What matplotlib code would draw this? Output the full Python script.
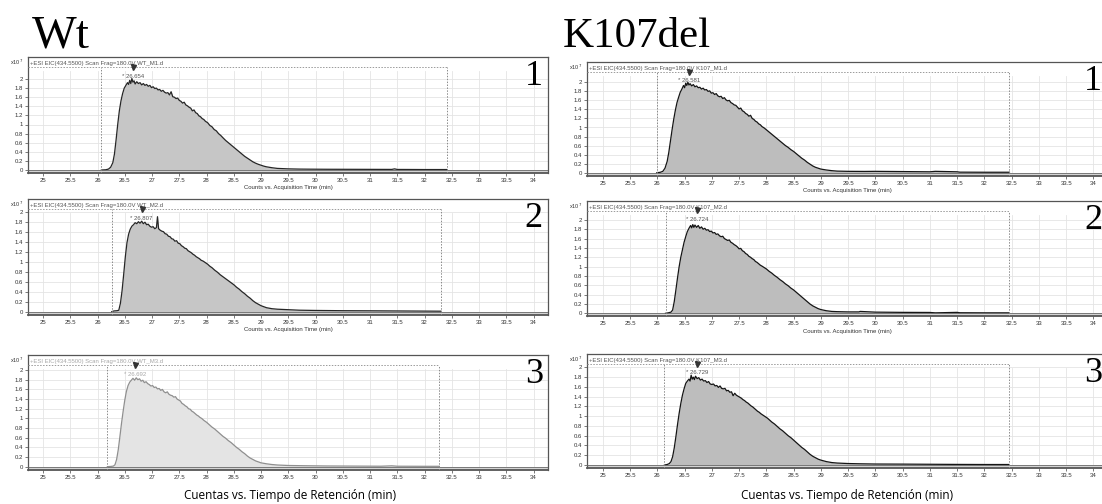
import matplotlib
matplotlib.use("Agg")
import matplotlib.pyplot as plt
import matplotlib.transforms as mtransforms

W, H = 1102, 504
plt.rcParams["font.family"] = ["Liberation Sans", "DejaVu Sans"]

# ---------------- chromatogram traces (time in min, counts in 1e7) ----------------
t_wt1 = [26.07, 26.15, 26.20, 26.24, 26.28, 26.31, 26.34, 26.37, 26.40, 26.43, 26.46, 26.49,
         26.52, 26.55, 26.57, 26.59, 26.61, 26.63, 26.65, 26.67, 26.69, 26.72, 26.75, 26.78,
         26.81, 26.84, 26.87, 26.90, 26.93, 26.96, 26.99, 27.02, 27.05, 27.08, 27.11, 27.14,
         27.17, 27.20, 27.23, 27.26, 27.29, 27.32, 27.35, 27.38, 27.41, 27.44, 27.47, 27.50,
         27.53, 27.56, 27.59, 27.62, 27.65, 27.68, 27.71, 27.74, 27.77, 27.80, 27.83, 27.86,
         27.89, 27.92, 27.95, 27.98, 28.02, 28.06, 28.10, 28.14, 28.18, 28.22, 28.26, 28.30,
         28.35, 28.40, 28.45, 28.50, 28.55, 28.60, 28.65, 28.70, 28.75, 28.80, 28.85, 28.90,
         28.95, 29.00, 29.05, 29.10, 29.15, 29.20, 29.30, 29.40, 29.50, 29.70, 29.90, 30.20,
         30.60, 31.00, 31.40, 31.45, 31.50, 31.60, 32.00, 32.41]
y_wt1 = [0.0, 0.005, 0.02, 0.06, 0.16, 0.35, 0.66, 1.0, 1.3, 1.52, 1.68, 1.8,
         1.86, 1.92, 1.88, 1.97, 1.9, 2.01, 1.93, 1.96, 1.89, 1.94, 1.9, 1.92,
         1.87, 1.9, 1.86, 1.88, 1.84, 1.86, 1.81, 1.83, 1.79, 1.8, 1.76, 1.77,
         1.73, 1.75, 1.71, 1.69, 1.7, 1.65, 1.72, 1.61, 1.6, 1.57, 1.58, 1.53,
         1.51, 1.47, 1.49, 1.43, 1.41, 1.38, 1.36, 1.3, 1.32, 1.26, 1.24, 1.19,
         1.17, 1.13, 1.11, 1.07, 1.04, 0.98, 0.95, 0.89, 0.86, 0.8, 0.76, 0.71,
         0.65, 0.6, 0.55, 0.5, 0.45, 0.4, 0.35, 0.3, 0.26, 0.22, 0.18, 0.15,
         0.125, 0.105, 0.085, 0.07, 0.06, 0.05, 0.035, 0.03, 0.025, 0.02, 0.018, 0.016,
         0.015, 0.014, 0.013, 0.025, 0.012, 0.012, 0.01, 0.01]

t_wt2 = [26.26, 26.30, 26.36, 26.39, 26.42, 26.45, 26.48, 26.51, 26.54, 26.57, 26.60, 26.63,
         26.66, 26.69, 26.72, 26.75, 26.78, 26.81, 26.84, 26.87, 26.90, 26.93, 26.96, 26.99,
         27.02, 27.05, 27.08, 27.10, 27.12, 27.15, 27.18, 27.21, 27.24, 27.27, 27.30, 27.33,
         27.36, 27.39, 27.42, 27.45, 27.48, 27.51, 27.54, 27.57, 27.60, 27.63, 27.66, 27.69,
         27.72, 27.75, 27.78, 27.81, 27.84, 27.87, 27.90, 27.94, 27.98, 28.02, 28.06, 28.10,
         28.15, 28.20, 28.25, 28.30, 28.35, 28.40, 28.45, 28.50, 28.55, 28.60, 28.65, 28.70,
         28.75, 28.80, 28.85, 28.90, 28.95, 29.00, 29.05, 29.10, 29.20, 29.30, 29.50, 29.70,
         30.00, 30.50, 31.00, 31.50, 32.00, 32.30]
y_wt2 = [0.0, 0.015, 0.02, 0.03, 0.17, 0.42, 0.75, 1.1, 1.38, 1.55, 1.65, 1.71,
         1.74, 1.78, 1.76, 1.8, 1.77, 1.81, 1.76, 1.79, 1.74, 1.75, 1.71, 1.69,
         1.7, 1.66, 1.68, 1.9, 1.66, 1.63, 1.61, 1.6, 1.56, 1.55, 1.51, 1.5,
         1.46, 1.45, 1.41, 1.42, 1.37, 1.36, 1.32, 1.3, 1.27, 1.26, 1.22, 1.2,
         1.18, 1.15, 1.13, 1.1, 1.08, 1.06, 1.03, 1.01, 0.98, 0.95, 0.91, 0.88,
         0.83, 0.79, 0.74, 0.7, 0.66, 0.62, 0.58, 0.54, 0.49, 0.45, 0.4, 0.36,
         0.31, 0.27, 0.22, 0.18, 0.15, 0.12, 0.1, 0.08, 0.06, 0.05, 0.04, 0.03,
         0.025, 0.02, 0.018, 0.015, 0.012, 0.01]

t_wt3 = [26.18, 26.24, 26.29, 26.32, 26.35, 26.38, 26.41, 26.44, 26.47, 26.50, 26.53, 26.56,
         26.59, 26.62, 26.65, 26.68, 26.71, 26.74, 26.77, 26.80, 26.83, 26.86, 26.89, 26.92,
         26.95, 26.98, 27.01, 27.04, 27.07, 27.10, 27.13, 27.16, 27.19, 27.22, 27.25, 27.28,
         27.31, 27.34, 27.37, 27.40, 27.43, 27.46, 27.49, 27.52, 27.55, 27.58, 27.61, 27.64,
         27.67, 27.70, 27.73, 27.76, 27.79, 27.82, 27.85, 27.88, 27.91, 27.95, 28.00, 28.05,
         28.10, 28.15, 28.20, 28.25, 28.30, 28.35, 28.40, 28.45, 28.50, 28.55, 28.60, 28.65,
         28.70, 28.75, 28.80, 28.85, 28.90, 28.95, 29.00, 29.10, 29.20, 29.30, 29.50, 29.80,
         30.20, 30.80, 31.20, 31.40, 31.50, 32.00, 32.27]
y_wt3 = [0.0, 0.005, 0.012, 0.04, 0.15, 0.35, 0.62, 0.9, 1.15, 1.38, 1.56, 1.68,
         1.75, 1.79, 1.83, 1.79, 1.84, 1.8, 1.82, 1.77, 1.79, 1.74, 1.76, 1.72,
         1.7, 1.67, 1.68, 1.64, 1.65, 1.61, 1.62, 1.58, 1.6, 1.55, 1.53, 1.55,
         1.5, 1.48, 1.47, 1.44, 1.45, 1.4, 1.38, 1.36, 1.31, 1.29, 1.26, 1.24,
         1.2, 1.19, 1.15, 1.13, 1.1, 1.07, 1.05, 1.02, 1.0, 0.96, 0.92, 0.87,
         0.82, 0.78, 0.73, 0.68, 0.63, 0.59, 0.54, 0.5, 0.45, 0.4, 0.36, 0.31,
         0.27, 0.22, 0.18, 0.15, 0.12, 0.1, 0.08, 0.06, 0.045, 0.035, 0.025, 0.02,
         0.015, 0.012, 0.01, 0.018, 0.01, 0.008, 0.008]

t_k1 = [25.99, 26.05, 26.10, 26.14, 26.18, 26.21, 26.24, 26.27, 26.30, 26.33, 26.36, 26.39,
        26.42, 26.45, 26.48, 26.50, 26.52, 26.54, 26.56, 26.58, 26.60, 26.63, 26.66, 26.69,
        26.72, 26.75, 26.78, 26.81, 26.84, 26.87, 26.90, 26.93, 26.96, 26.99, 27.02, 27.05,
        27.08, 27.11, 27.14, 27.17, 27.20, 27.23, 27.26, 27.29, 27.32, 27.35, 27.38, 27.41,
        27.44, 27.47, 27.50, 27.53, 27.56, 27.59, 27.62, 27.65, 27.68, 27.71, 27.74, 27.77,
        27.80, 27.83, 27.86, 27.89, 27.92, 27.96, 28.00, 28.05, 28.10, 28.15, 28.20, 28.25,
        28.30, 28.35, 28.40, 28.45, 28.50, 28.55, 28.60, 28.65, 28.70, 28.75, 28.80, 28.85,
        28.90, 28.95, 29.00, 29.10, 29.20, 29.30, 29.50, 29.80, 30.00, 30.50, 31.00, 31.10,
        31.50, 31.55, 32.00, 32.46]
y_k1 = [0.0, 0.008, 0.03, 0.1, 0.25, 0.45, 0.7, 0.95, 1.18, 1.38, 1.55, 1.67,
        1.78, 1.85, 1.93, 1.88, 1.98, 1.93, 2.0, 1.94, 1.97, 1.92, 1.95, 1.9,
        1.92, 1.88, 1.89, 1.85, 1.87, 1.83, 1.84, 1.8, 1.81, 1.76, 1.77, 1.73,
        1.75, 1.7, 1.68, 1.69, 1.64, 1.66, 1.61, 1.59, 1.6, 1.55, 1.53, 1.5,
        1.49, 1.45, 1.41, 1.43, 1.37, 1.35, 1.31, 1.29, 1.25, 1.27, 1.2, 1.18,
        1.14, 1.12, 1.08, 1.06, 1.02, 0.99, 0.95, 0.9, 0.85, 0.8, 0.75, 0.7,
        0.65, 0.6, 0.56, 0.51, 0.47, 0.42, 0.37, 0.32, 0.28, 0.23, 0.19, 0.15,
        0.12, 0.1, 0.08, 0.06, 0.045, 0.035, 0.03, 0.028, 0.03, 0.025, 0.02, 0.03,
        0.02, 0.012, 0.01, 0.01]

t_k2 = [26.15, 26.20, 26.25, 26.28, 26.31, 26.34, 26.37, 26.40, 26.43, 26.46, 26.49, 26.52,
        26.55, 26.58, 26.61, 26.63, 26.65, 26.67, 26.69, 26.72, 26.75, 26.78, 26.81, 26.84,
        26.87, 26.90, 26.93, 26.96, 26.99, 27.02, 27.05, 27.08, 27.11, 27.14, 27.17, 27.20,
        27.23, 27.26, 27.29, 27.32, 27.35, 27.38, 27.41, 27.44, 27.47, 27.50, 27.53, 27.56,
        27.59, 27.62, 27.65, 27.68, 27.71, 27.74, 27.77, 27.80, 27.83, 27.86, 27.89, 27.92,
        27.96, 28.00, 28.05, 28.10, 28.15, 28.20, 28.25, 28.30, 28.35, 28.40, 28.45, 28.50,
        28.55, 28.60, 28.65, 28.70, 28.75, 28.80, 28.85, 28.90, 28.95, 29.00, 29.10, 29.20,
        29.30, 29.50, 29.70, 29.72, 30.00, 30.50, 31.00, 31.10, 31.50, 31.55, 32.00, 32.45]
y_k2 = [0.0, 0.01, 0.025, 0.07, 0.25, 0.5, 0.76, 1.0, 1.2, 1.36, 1.52, 1.64,
        1.75, 1.82, 1.88, 1.83, 1.9, 1.84, 1.89, 1.84, 1.88, 1.82, 1.85, 1.8,
        1.82, 1.78, 1.79, 1.75, 1.76, 1.72, 1.73, 1.69, 1.7, 1.66, 1.64, 1.65,
        1.6, 1.58, 1.56, 1.57, 1.52, 1.5, 1.47, 1.45, 1.42, 1.38, 1.39, 1.34,
        1.32, 1.28, 1.26, 1.22, 1.2, 1.17, 1.15, 1.11, 1.09, 1.06, 1.03, 1.01,
        0.98, 0.95, 0.9, 0.86, 0.81, 0.77, 0.72, 0.68, 0.63, 0.59, 0.54, 0.5,
        0.45, 0.4, 0.35, 0.3, 0.25, 0.2, 0.16, 0.13, 0.1, 0.08, 0.055, 0.04,
        0.035, 0.03, 0.03, 0.04, 0.025, 0.02, 0.018, 0.01, 0.02, 0.012, 0.01, 0.01]

t_k3 = [26.13, 26.18, 26.22, 26.25, 26.28, 26.31, 26.34, 26.37, 26.40, 26.43, 26.46, 26.49,
        26.52, 26.55, 26.58, 26.60, 26.62, 26.64, 26.66, 26.68, 26.70, 26.73, 26.76, 26.79,
        26.82, 26.85, 26.88, 26.91, 26.94, 26.97, 27.00, 27.03, 27.06, 27.09, 27.12, 27.15,
        27.18, 27.21, 27.24, 27.27, 27.30, 27.33, 27.36, 27.39, 27.42, 27.45, 27.48, 27.51,
        27.54, 27.57, 27.60, 27.63, 27.66, 27.69, 27.72, 27.75, 27.78, 27.81, 27.84, 27.87,
        27.90, 27.94, 27.98, 28.02, 28.06, 28.10, 28.15, 28.20, 28.25, 28.30, 28.35, 28.40,
        28.45, 28.50, 28.55, 28.60, 28.65, 28.70, 28.75, 28.80, 28.85, 28.90, 28.95, 29.00,
        29.10, 29.20, 29.30, 29.50, 29.70, 30.00, 30.50, 31.00, 31.50, 32.00, 32.45]
y_k3 = [0.0, 0.01, 0.03, 0.07, 0.17, 0.35, 0.58, 0.83, 1.06, 1.26, 1.43, 1.56,
        1.67, 1.72, 1.76, 1.72, 1.84, 1.76, 1.8, 1.75, 1.82, 1.77, 1.79, 1.74,
        1.76, 1.72, 1.73, 1.69, 1.71, 1.66, 1.65, 1.66, 1.62, 1.63, 1.59, 1.62,
        1.57, 1.56, 1.57, 1.52, 1.53, 1.49, 1.5, 1.42, 1.47, 1.43, 1.41, 1.39,
        1.37, 1.34, 1.32, 1.29, 1.27, 1.24, 1.21, 1.19, 1.16, 1.13, 1.1, 1.08,
        1.05, 1.02, 0.99, 0.96, 0.92, 0.88, 0.84, 0.79, 0.74, 0.7, 0.65, 0.6,
        0.56, 0.51, 0.46, 0.41, 0.36, 0.32, 0.27, 0.22, 0.18, 0.15, 0.12, 0.1,
        0.07, 0.05, 0.04, 0.03, 0.025, 0.02, 0.018, 0.015, 0.012, 0.01, 0.01]

# sample files, apex times and integration window of each run
files = ["WT_M1.d", "WT_M2.d", "WT_M3.d", "K107_M1.d", "K107_M2.d", "K107_M3.d"]
apex = [26.654, 26.807, 26.692, 26.581, 26.724, 26.729]
win_start = [26.07, 26.26, 26.18, 25.99, 26.15, 26.13]
win_end = [32.41, 32.30, 32.27, 32.46, 32.45, 32.45]
run_no = ["1", "2", "3", "1", "2", "3"]
traces = [(t_wt1, y_wt1), (t_wt2, y_wt2), (t_wt3, y_wt3),
          (t_k1, y_k1), (t_k2, y_k2), (t_k3, y_k3)]

x_ticks = [25, 25.5, 26, 26.5, 27, 27.5, 28, 28.5, 29, 29.5, 30, 30.5, 31, 31.5,
           32, 32.5, 33, 33.5, 34]
y_ticks = [0, 0.2, 0.4, 0.6, 0.8, 1, 1.2, 1.4, 1.6, 1.8, 2]

# panel frames in pixels: left, top, zero line, pixels per 1e7 counts, x at left edge
frames = [
    (28, 57, 170.0, 45.5, 24.724),
    (28, 199, 311.7, 50.0, 24.724),
    (28, 355, 466.7, 48.3, 24.724),
    (587, 62, 172.7, 45.2, 24.709),
    (587, 201, 313.3, 46.7, 24.709),
    (587, 354, 465.0, 48.8, 24.709),
]
PW = 520          # panel width in px
PX_PER_MIN = 54.5
BELOW = 3.0       # px of grey band under the zero line

fig = plt.figure(figsize=(W / 100, H / 100), dpi=100)

for i, (left, top, zero, s, x0) in enumerate(frames):
    bottom = zero + BELOW
    ph = bottom - top
    ax = fig.add_axes([left / W, 1 - bottom / H, PW / W, ph / H])
    ax.set_xlim(x0, x0 + PW / PX_PER_MIN)
    ax.set_ylim(-BELOW / s, (zero - top) / s)

    faded = (i == 2)
    if faded:
        fill_c, line_c, txt_c = "#e4e4e4", "#8f8f8f", "#a8a8a8"
    elif i < 3:
        fill_c, line_c, txt_c = "#c6c6c6", "#262626", "#555555"
    else:
        fill_c, line_c, txt_c = "#bdbdbd", "#151515", "#555555"

    # grid
    for yv in y_ticks[1:]:
        ax.axhline(yv, color="#e4e4e4", lw=0.6, zorder=0)
    for xv in x_ticks:
        ax.axvline(xv, ymin=0, ymax=0.88, color="#e4e4e4", lw=0.6, zorder=0)
    ax.axhspan(-BELOW / s, 0, color="#d4d4d4", lw=0, zorder=1)

    # trace
    t, y = traces[i]
    ax.fill_between(t, 0, y, color=fill_c, lw=0, zorder=2)
    ax.plot(t, y, color=line_c, lw=0.9, zorder=3)
    ax.axhline(0, color="#6a6a6a", lw=0.6, zorder=3)

    # integration window (dotted box) and header
    bt = mtransforms.blended_transform_factory(ax.transData, ax.transAxes)
    top_frac = 1 - 10 / ph
    ax.plot([win_start[i], win_start[i]], [0, top_frac], transform=bt,
            color="#8a8a8a", lw=0.7, ls=(0, (1.5, 1.5)), zorder=4)
    ax.plot([win_end[i], win_end[i]], [0, top_frac], transform=bt,
            color="#8a8a8a", lw=0.7, ls=(0, (1.5, 1.5)), zorder=4)
    ax.plot([x0, win_end[i]], [top_frac, top_frac], transform=bt,
            color="#9a9a9a", lw=0.7, ls=(0, (1.5, 1.5)), zorder=4)
    ax.text(0.004, 1 - 6.5 / ph, "+ESI EIC(434.5500) Scan Frag=180.0V " + files[i],
            transform=ax.transAxes, fontsize=4.3, color=txt_c, va="center", ha="left",
            zorder=5, bbox=dict(facecolor="white", edgecolor="none", pad=0.4))

    # apex marker and label
    ax.plot([apex[i]], [1 - 9.5 / ph], transform=bt, marker="v", ms=3.6,
            color="#333333", lw=0, zorder=6)
    ax.text(apex[i], 1 - 19 / ph, "* %.3f" % apex[i], transform=bt, fontsize=4.3,
            color=txt_c, ha="center", va="center", zorder=6)

    # run number
    ax.text(1 - 5 / PW, 1 - 3 / ph, run_no[i], transform=ax.transAxes,
            fontsize=26, family="Liberation Serif", ha="right", va="top", zorder=6)

    # axes styling
    ax.set_xticks(x_ticks)
    ax.set_xticklabels(["%g" % v for v in x_ticks])
    ax.set_yticks(y_ticks)
    ax.set_yticklabels(["%g" % v for v in y_ticks])
    ax.tick_params(axis="both", length=2, width=0.5, color="#444444",
                   labelsize=4.3, labelcolor="#333333", pad=1.5)
    for sp in ax.spines.values():
        sp.set_color("#555555")
        sp.set_linewidth(0.9)
    ax.spines["bottom"].set_linewidth(1.3)

    ax.text(-4 / PW, 1 - 5 / ph, r"x10$^{\,7}$", transform=ax.transAxes,
            fontsize=4.0, color="#333333", ha="right", va="center")

    if i % 3 != 2:
        ax.text(0.5, -15 / ph, "Counts vs. Acquisition Time (min)",
                transform=ax.transAxes, fontsize=4.3, color="#333333",
                ha="center", va="center")

# group titles and shared axis caption
fig.text(32 / W, 1 - 47 / H, "Wt", family="Liberation Serif", fontsize=34,
         ha="left", va="baseline")
fig.text(563 / W, 1 - 47 / H, "K107del", family="Liberation Serif", fontsize=31,
         ha="left", va="baseline")
fig.text(290 / W, 1 - 495 / H, "Cuentas vs. Tiempo de Retención (min)",
         family="Open Sans", fontsize=8.5, ha="center", va="center")
fig.text(847 / W, 1 - 495 / H, "Cuentas vs. Tiempo de Retención (min)",
         family="Open Sans", fontsize=8.5, ha="center", va="center")

fig.savefig("out.png", dpi=100)
